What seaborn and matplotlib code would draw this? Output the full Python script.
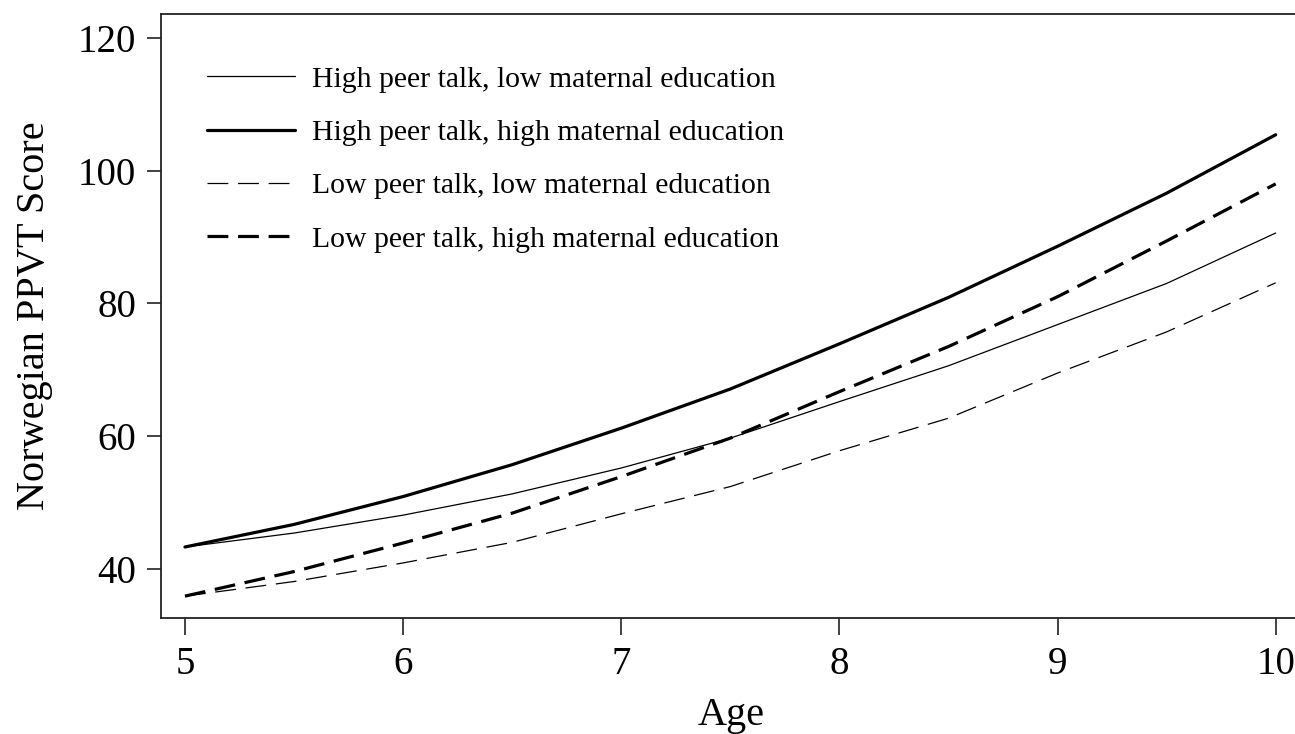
import pandas as pd
import seaborn as sns
import matplotlib.pyplot as plt

age = [5, 5.5, 6, 6.5, 7, 7.5, 8, 8.5, 9, 9.5, 10]
high_talk_low_edu = [43.3, 45.4, 48.1, 51.3, 55.2, 59.7, 65.2, 70.6, 76.8, 83.0, 90.6]
high_talk_high_edu = [43.3, 46.7, 50.9, 55.7, 61.2, 67.1, 73.9, 80.9, 88.6, 96.6, 105.4]
low_talk_low_edu = [35.9, 38.1, 40.9, 44.0, 48.3, 52.4, 57.8, 62.7, 69.5, 75.7, 83.1]
low_talk_high_edu = [35.9, 39.6, 43.9, 48.4, 53.9, 59.7, 66.7, 73.5, 81.0, 89.4, 98.0]

labels = ["High peer talk, low maternal education",
          "High peer talk, high maternal education",
          "Low peer talk, low maternal education",
          "Low peer talk, high maternal education"]

sns.set_style("ticks")
plt.rcParams['font.family'] = ['Liberation Serif', 'DejaVu Serif']
plt.rcParams['lines.scale_dashes'] = False
plt.rcParams['text.color'] = 'black'
plt.rcParams['axes.labelcolor'] = 'black'
plt.rcParams['xtick.color'] = 'black'
plt.rcParams['ytick.color'] = 'black'

fig = plt.figure(figsize=(12.95, 7.34), dpi=100)
ax = fig.add_axes([0.1243, 0.158, 0.881, 0.823])

series = [high_talk_low_edu, high_talk_high_edu, low_talk_low_edu, low_talk_high_edu]
widths = [0.9, 2.3, 0.9, 2.3]
styles = ['-', '-', (0, (15, 7)), (0, (15, 7))]
for vals, lab, lw, ls in zip(series, labels, widths, styles):
    df = pd.DataFrame({'Age': age, 'Score': vals})
    sns.lineplot(data=df, x='Age', y='Score', color='black', linewidth=lw,
                 linestyle=ls, label=lab, ax=ax)

ax.set_xlim(4.89, 10.12)
ax.set_ylim(32.6, 123.6)
ax.set_xticks([5, 6, 7, 8, 9, 10])
ax.set_yticks([40, 60, 80, 100, 120])
ax.tick_params(axis='both', direction='out', labelsize=28, width=1.2, color='#222222')
ax.tick_params(axis='x', length=12, pad=8)
ax.tick_params(axis='y', length=10, pad=8)
ax.set_xlabel("Age", fontsize=29, labelpad=10)
ax.set_ylabel("Norwegian PPVT Score", fontsize=29, labelpad=18)
for s in ax.spines.values():
    s.set_visible(True)
    s.set_linewidth(1.3)
    s.set_color('#222222')

leg = ax.legend(loc='upper left', bbox_to_anchor=(0.0165, 0.958), frameon=False,
                fontsize=21.4, handlelength=2.96, handletextpad=0.6, labelspacing=0.89)

fig.savefig("out.png", dpi=100)
